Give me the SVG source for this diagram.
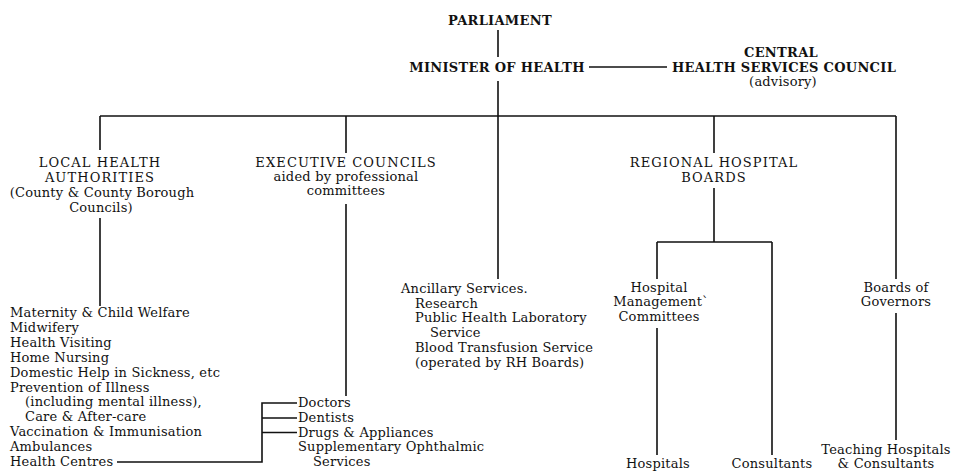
<svg xmlns="http://www.w3.org/2000/svg" width="962" height="472" viewBox="0 0 962 472">
<style>
.t{font-family:"DejaVu Serif","Liberation Serif",serif;font-size:13px;fill:#111;letter-spacing:0.2px}
.c{letter-spacing:1.1px}
.b{font-weight:bold;letter-spacing:0.3px}
.m{text-anchor:middle}
.ln{stroke:#111;stroke-width:1.6;fill:none}
</style>
<rect width="962" height="472" fill="#fff"/>
<g id="connectors" class="ln">
<path d="M498 30V57M498 81V279"/>
<path d="M589 67H667"/>
<path d="M100 116H896"/>
<path d="M100 116V150M100 218V306"/>
<path d="M346 116V153M346 204V396"/>
<path d="M714 116V153M714 188V242"/>
<path d="M657 242H772M657 242V279M657 328V455M772 242V455"/>
<path d="M896 116V279M896 313V440"/>
<path d="M117 462H262V403H297M262 418H297M262 432.5H297"/>
</g>
<g id="parliament"><text class="t b m" x="500" y="25">PARLIAMENT</text></g>
<g id="minister"><text class="t b m" x="497" y="72">MINISTER OF HEALTH</text></g>
<g id="central-council">
<text class="t b m" x="781" y="57">CENTRAL</text>
<text class="t b m" x="784" y="72">HEALTH SERVICES COUNCIL</text>
<text class="t m" x="783" y="86">(advisory)</text>
</g>
<g id="local-health">
<text class="t c m" x="100" y="167">LOCAL HEALTH</text>
<text class="t c m" x="100" y="182">AUTHORITIES</text>
<text class="t m" x="102" y="197">(County &amp; County Borough</text>
<text class="t m" x="101" y="212">Councils)</text>
</g>
<g id="local-services">
<text class="t" x="10" y="317">Maternity &amp; Child Welfare</text>
<text class="t" x="10" y="331.9">Midwifery</text>
<text class="t" x="10" y="346.8">Health Visiting</text>
<text class="t" x="10" y="361.7">Home Nursing</text>
<text class="t" x="10" y="376.6">Domestic Help in Sickness, etc</text>
<text class="t" x="10" y="391.5">Prevention of Illness</text>
<text class="t" x="25" y="406.4">(including mental illness),</text>
<text class="t" x="25" y="421.3">Care &amp; After-care</text>
<text class="t" x="10" y="436.2">Vaccination &amp; Immunisation</text>
<text class="t" x="10" y="451.1">Ambulances</text>
<text class="t" x="10" y="466">Health Centres</text>
</g>
<g id="executive-councils">
<text class="t c m" x="346" y="167">EXECUTIVE COUNCILS</text>
<text class="t m" x="346" y="181">aided by professional</text>
<text class="t m" x="346" y="195">committees</text>
</g>
<g id="executive-services">
<text class="t" x="298" y="407">Doctors</text>
<text class="t" x="298" y="421.75">Dentists</text>
<text class="t" x="298" y="436.5">Drugs &amp; Appliances</text>
<text class="t" x="298" y="451.25">Supplementary Ophthalmic</text>
<text class="t" x="313" y="466">Services</text>
</g>
<g id="ancillary">
<text class="t" x="401" y="293">Ancillary Services.</text>
<text class="t" x="415" y="307.7">Research</text>
<text class="t" x="415" y="322.4">Public Health Laboratory</text>
<text class="t" x="430" y="337.1">Service</text>
<text class="t" x="415" y="351.8">Blood Transfusion Service</text>
<text class="t" x="415" y="366.5">(operated by RH Boards)</text>
</g>
<g id="regional-boards">
<text class="t c m" x="714" y="167">REGIONAL HOSPITAL</text>
<text class="t c m" x="714" y="182">BOARDS</text>
</g>
<g id="hmc">
<text class="t m" x="659" y="292">Hospital</text>
<text class="t m" x="661" y="306">Management`</text>
<text class="t m" x="659" y="321">Committees</text>
</g>
<g id="hospitals"><text class="t m" x="658" y="468">Hospitals</text></g>
<g id="consultants"><text class="t m" x="772" y="468">Consultants</text></g>
<g id="boards-governors">
<text class="t m" x="896" y="292">Boards of</text>
<text class="t m" x="896" y="306">Governors</text>
</g>
<g id="teaching">
<text class="t m" x="886" y="454">Teaching Hospitals</text>
<text class="t m" x="886" y="468">&amp; Consultants</text>
</g>
</svg>
